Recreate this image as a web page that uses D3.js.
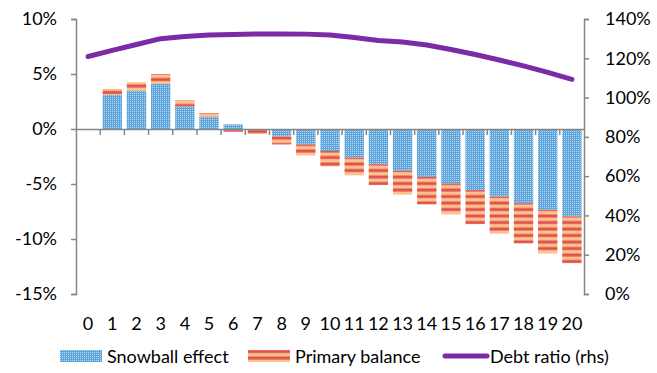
<!DOCTYPE html>
<html>
<head>
<meta charset="utf-8">
<script src="https://cdn.jsdelivr.net/npm/d3@7"></script>
<style>
  body { margin: 0; background: #fff; }
  text { font-family: Lato, "Open Sans", sans-serif; fill: #000; }
</style>
</head>
<body>
<div id="chart"></div>
<script>
// Chart data
const years = d3.range(0, 21).map(String);
const snowball = [0, 3.1, 3.5, 4.1, 2.05, 1.1, 0.42, 0, -0.65, -1.4, -2.0, -2.6, -3.2, -3.8, -4.35, -4.95, -5.55, -6.15, -6.75, -7.35, -7.95];
const primary = [0, 0.55, 0.75, 0.9, 0.55, 0.35, -0.25, -0.45, -0.75, -1.0, -1.4, -1.6, -1.9, -2.15, -2.5, -2.8, -3.1, -3.35, -3.65, -3.95, -4.25];
const debt = [120.9, 124, 127, 130, 131.1, 131.8, 132.1, 132.4, 132.4, 132.3, 131.9, 130.6, 129.1, 128.3, 126.8, 124.5, 121.9, 119.1, 116.1, 112.8, 109.3];
const leftTicks = [10, 5, 0, -5, -10, -15];
const rightTicks = [0, 20, 40, 60, 80, 100, 120, 140];
const legendLabels = ["Snowball effect", "Primary balance", "Debt ratio (rhs)"];

const W = 657, H = 373;
const margin = { top: 19, right: 73, bottom: 79, left: 76 };
const width = W - margin.left - margin.right,
      height = H - margin.top - margin.bottom;

const svg = d3.select("#chart").append("svg")
    .attr("width", W)
    .attr("height", H);

// Fill patterns
const defs = svg.append("defs");
const blue = defs.append("pattern")
    .attr("id", "blueDots")
    .attr("patternUnits", "userSpaceOnUse")
    .attr("width", 2).attr("height", 2);
blue.append("rect").attr("width", 2).attr("height", 2).attr("fill", "#5ea5dc");
blue.append("rect").attr("x", 0).attr("y", 0).attr("width", 1).attr("height", 1).attr("fill", "#b9d9f2");

const red = defs.append("pattern")
    .attr("id", "redStripes")
    .attr("patternUnits", "userSpaceOnUse")
    .attr("width", 8).attr("height", 6.5);
red.append("rect").attr("width", 8).attr("height", 6.5).attr("fill", "#fdc28c");
red.append("rect").attr("y", 0.5).attr("width", 8).attr("height", 3).attr("fill", "#df5252");

const g = svg.append("g")
    .attr("transform", `translate(${margin.left},${margin.top})`);

// Scales
const x = d3.scaleBand().domain(years).range([0, width]).paddingInner(0.2).paddingOuter(0.1);
const xb = d3.scaleBand().domain(years).range([0, width]);
const y = d3.scaleLinear().domain([-15, 10]).range([height, 0]);
const y2 = d3.scaleLinear().domain([0, 140]).range([height, 0]);

// Stacked bars
const rows = years.map((d, i) => ({ year: d, snowball: snowball[i], primary: primary[i] }));
const series = d3.stack()
    .keys(["snowball", "primary"])
    .offset(d3.stackOffsetDiverging)(rows);
const fills = { snowball: "url(#blueDots)", primary: "url(#redStripes)" };

g.selectAll("g.series")
  .data(series)
  .join("g")
    .attr("class", "series")
    .attr("fill", d => fills[d.key])
  .selectAll("rect")
  .data(d => d)
  .join("rect")
    .attr("x", d => xb(d.data.year) + (xb.bandwidth() - x.bandwidth()) / 2)
    .attr("width", x.bandwidth())
    .attr("y", d => y(Math.max(d[0], d[1])))
    .attr("height", d => Math.abs(y(d[0]) - y(d[1])));

// Axes
const axisColor = "#868686";
const left = g.append("g")
    .call(d3.axisLeft(y).tickValues(leftTicks).tickSize(5).tickPadding(14).tickFormat(d => d + "%"));
const right = g.append("g")
    .attr("transform", `translate(${width},0)`)
    .call(d3.axisRight(y2).tickValues(rightTicks).tickSize(5).tickPadding(16).tickFormat(d => d + "%"));
const bottom = g.append("g")
    .attr("transform", `translate(0,${y(0)})`)
    .call(d3.axisBottom(xb).tickSize(0).tickFormat(""));
// category boundary ticks
bottom.selectAll("line.bound")
  .data(years.slice(1))
  .join("line")
    .attr("class", "bound")
    .attr("x1", d => xb(d)).attr("x2", d => xb(d))
    .attr("y1", 0).attr("y2", 6)
    .attr("stroke", axisColor).attr("stroke-width", 1.5);

[left, right, bottom].forEach(a => {
  a.selectAll(".domain").attr("stroke", axisColor).attr("stroke-width", 1.5);
  a.selectAll(".tick line").attr("stroke", axisColor).attr("stroke-width", 1.5);
  a.selectAll("text").style("font-size", "18px").attr("fill", "#000");
});

// Category labels below the plot
g.append("g").selectAll("text")
  .data(years)
  .join("text")
    .attr("x", d => xb(d) + xb.bandwidth() / 2)
    .attr("y", height + 36)
    .attr("text-anchor", "middle")
    .style("font-size", "18px")
    .text(d => d);

// Debt ratio line
g.append("path")
  .datum(debt)
  .attr("fill", "none")
  .attr("stroke", "#7c2aa6")
  .attr("stroke-width", 5)
  .attr("stroke-linecap", "round")
  .attr("stroke-linejoin", "round")
  .attr("d", d3.line()
    .x((d, i) => xb(years[i]) + xb.bandwidth() / 2)
    .y(d => y2(d)));

// Legend
const legend = svg.append("g").attr("transform", "translate(0,356)");
const items = [
  { x: 60, label: legendLabels[0], type: "blue" },
  { x: 248, label: legendLabels[1], type: "red" },
  { x: 443, label: legendLabels[2], type: "line" }
];
items.forEach(it => {
  if (it.type === "line") {
    legend.append("line")
      .attr("x1", it.x + 2).attr("x2", it.x + 44)
      .attr("y1", 0).attr("y2", 0)
      .attr("stroke", "#7c2aa6").attr("stroke-width", 5)
      .attr("stroke-linecap", "round");
  } else {
    legend.append("rect")
      .attr("x", it.x).attr("y", -6)
      .attr("width", 42).attr("height", 12)
      .attr("fill", it.type === "blue" ? "url(#blueDots)" : "url(#redStripes)");
  }
  legend.append("text")
    .attr("x", it.x + 47)
    .attr("y", 6.5)
    .style("font-size", "18px")
    .text(it.label);
});
</script>
</body>
</html>
